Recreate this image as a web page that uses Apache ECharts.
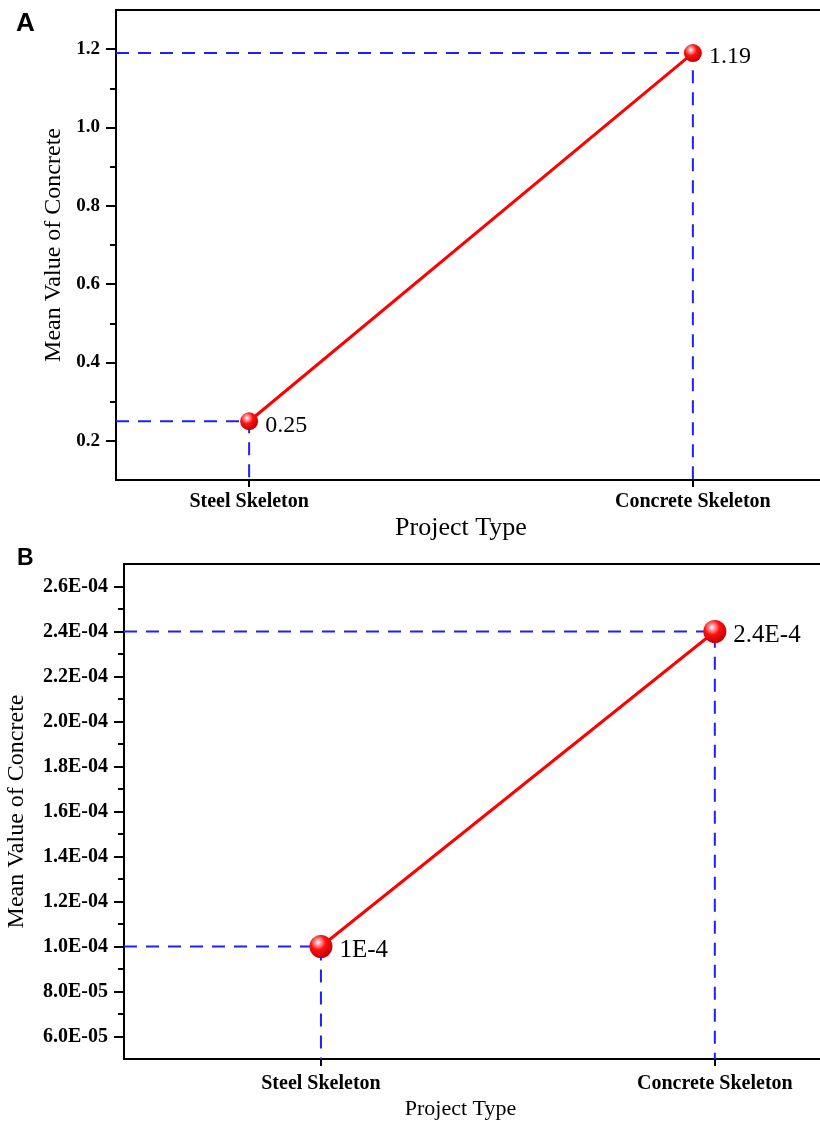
<!DOCTYPE html>
<html><head><meta charset="utf-8">
<script src="https://cdn.jsdelivr.net/npm/echarts@6/dist/echarts.min.js"></script>
<style>html,body{margin:0;padding:0;background:#fff}#c{width:820px;height:1126px}</style>
</head><body><div id="c"></div>
<script>
const categories = ['Steel Skeleton', 'Concrete Skeleton'];
const valuesA = [0.25, 1.19];
const valuesB = [1e-4, 2.4e-4];
const yTicksA = [0.2, 0.4, 0.6, 0.8, 1.0, 1.2];
const yMinorA = [0.3, 0.5, 0.7, 0.9, 1.1];
const yTicksB = [6e-5, 8e-5, 1e-4, 1.2e-4, 1.4e-4, 1.6e-4, 1.8e-4, 2e-4, 2.2e-4, 2.4e-4, 2.6e-4];
const yMinorB = [7e-5, 9e-5, 1.1e-4, 1.3e-4, 1.5e-4, 1.7e-4, 1.9e-4, 2.1e-4, 2.3e-4, 2.5e-4];
const yRangeA = [0.1, 1.3];
const yRangeB = [5e-5, 2.7e-4];
const xRangeA = [0.7, 2.3];
const xRangeB = [0.5, 2.3];
const xTicks = [1, 2];

const xs = categories.map((_, i) => i + 1);
const SERIF = '"Liberation Serif","Times New Roman",serif';

function fmtLong(v) {
  const parts = v.toExponential(1).split('e');
  const e = parseInt(parts[1], 10);
  return parts[0] + 'E' + (e < 0 ? '-' : '+') + String(Math.abs(e)).padStart(2, '0');
}
function fmtShort(v) { return v.toExponential().replace('e', 'E'); }

const ball = {
  type: 'radial', x: 0.38, y: 0.32, r: 0.72,
  colorStops: [
    { offset: 0, color: '#ffffff' },
    { offset: 0.18, color: '#ff9a9a' },
    { offset: 0.45, color: '#ff1010' },
    { offset: 1, color: '#b80000' }
  ]
};

function xAxisDef(grid, range, margin, nameSize) {
  return {
    type: 'value', gridIndex: grid, min: range[0], max: range[1],
    axisLine: { show: true, lineStyle: { color: '#000', width: 2 } },
    axisTick: { show: true, customValues: xTicks, length: 7, lineStyle: { color: '#000', width: 2 } },
    axisLabel: { show: true, customValues: xTicks, margin: margin,
      formatter: v => categories[Math.round(v) - 1] || '',
      fontFamily: SERIF, fontWeight: 'bold', fontSize: 20, color: '#000' },
    splitLine: { show: false },
    name: 'Project Type', nameLocation: 'middle',
    nameTextStyle: { fontFamily: SERIF, fontSize: nameSize, color: '#000' }
  };
}
function yMainDef(grid, range, ticks, fmt, size, gap) {
  return {
    type: 'value', gridIndex: grid, min: range[0], max: range[1], position: 'left',
    axisLine: { show: true, lineStyle: { color: '#000', width: 2 } },
    axisTick: { show: true, customValues: ticks, length: 10, lineStyle: { color: '#000', width: 2 } },
    axisLabel: { show: true, customValues: ticks, margin: 16, formatter: fmt,
      fontFamily: SERIF, fontWeight: 'bold', fontSize: size, color: '#000' },
    splitLine: { show: false },
    name: 'Mean Value of Concrete', nameLocation: 'middle', nameGap: gap,
    nameTextStyle: { fontFamily: SERIF, fontSize: 24, color: '#000' }
  };
}
function yMinorDef(grid, range, ticks) {
  return {
    type: 'value', gridIndex: grid, min: range[0], max: range[1], position: 'left',
    axisLine: { show: false },
    axisTick: { show: true, customValues: ticks, length: 6, lineStyle: { color: '#000', width: 2 } },
    axisLabel: { show: false },
    splitLine: { show: false }
  };
}

function panelSeries(xi, yi, values, xRange, yRange, labelFmt, symSize, labelSize) {
  const out = [];
  values.forEach((v, i) => {
    out.push({
      type: 'line', xAxisIndex: xi, yAxisIndex: yi, silent: true, symbol: 'none', z: 2,
      lineStyle: { color: '#1f1fff', width: 2, type: [13, 9] },
      data: [[xRange[0], v], [xs[i], v], [xs[i], yRange[0]]]
    });
  });
  out.push({
    type: 'line', xAxisIndex: xi, yAxisIndex: yi, z: 5,
    data: values.map((v, i) => [xs[i], v]),
    lineStyle: { color: '#ff0000', width: 3 },
    symbol: 'circle', symbolSize: symSize, showAllSymbol: true,
    itemStyle: { color: ball, borderWidth: 0 },
    label: { show: true, position: 'right', distance: 7, offset: [0, 4],
      formatter: p => labelFmt(p.value[1]),
      fontFamily: SERIF, fontSize: labelSize, color: '#000' }
  });
  return out;
}

const xA = xAxisDef(0, xRangeA, 12, 26); xA.nameGap = 35; xA.nameTextStyle.padding = [0, 20, 0, 0];
const xB = xAxisDef(1, xRangeB, 15, 22); xB.nameGap = 39; xB.nameTextStyle.padding = [0, 36, 0, 0];

const option = {
  animation: false,
  backgroundColor: '#fff',
  grid: [
    { left: 116, top: 10, width: 710, height: 470, outerBoundsMode: 'none', containLabel: false,
      show: true, borderColor: '#000', borderWidth: 2 },
    { left: 124, top: 564, width: 709, height: 495, outerBoundsMode: 'none', containLabel: false,
      show: true, borderColor: '#000', borderWidth: 2 }
  ],
  xAxis: [xA, xB],
  yAxis: [
    yMainDef(0, yRangeA, yTicksA, v => v.toFixed(1), 19, 50),
    yMinorDef(0, yRangeA, yMinorA),
    yMainDef(1, yRangeB, yTicksB, fmtLong, 20, 95),
    yMinorDef(1, yRangeB, yMinorB)
  ],
  series: [
    ...panelSeries(0, 0, valuesA, xRangeA, yRangeA, v => String(v), 18, 24),
    ...panelSeries(1, 2, valuesB, xRangeB, yRangeB, fmtShort, 23, 25)
  ],
  graphic: [
    { type: 'text', left: 16, top: 11, style: { text: 'A', font: 'bold 26px "Liberation Sans", Arial, sans-serif', fill: '#000' } },
    { type: 'text', left: 17, top: 547, style: { text: 'B', font: 'bold 23px "Liberation Sans", Arial, sans-serif', fill: '#000' } }
  ]
};
const chart = echarts.init(document.getElementById('c'), null, { renderer: 'canvas' });
chart.setOption(option);
</script>
</body></html>
